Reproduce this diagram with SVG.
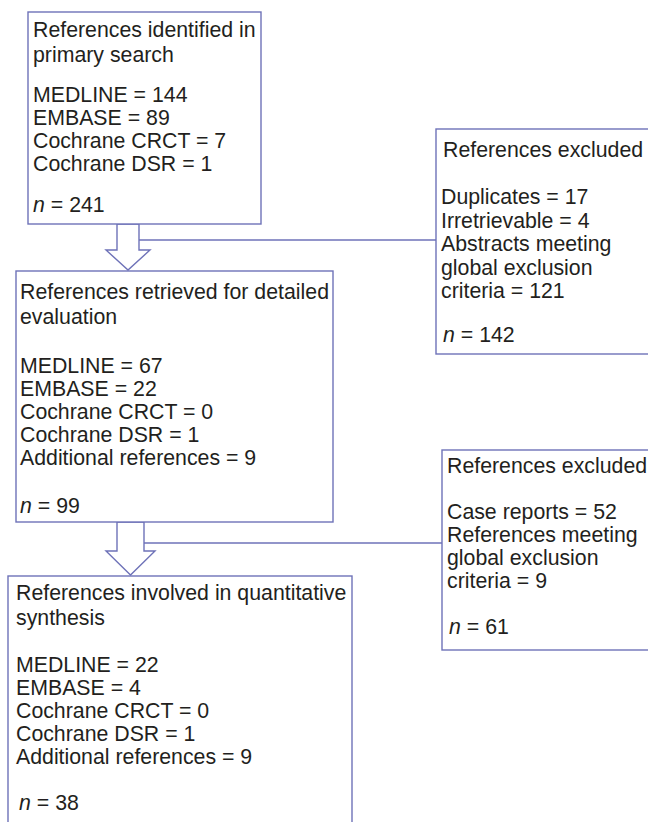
<svg xmlns="http://www.w3.org/2000/svg" width="648" height="822" viewBox="0 0 648 822">
<style>
.box{fill:#fff;stroke:#6e72b8;stroke-width:1.4}
.arr{fill:#fff;stroke:#6e72b8;stroke-width:1.4;stroke-linejoin:miter}
.ln{fill:none;stroke:#6e72b8;stroke-width:1.4}
text{font-family:"Liberation Sans",Arial,Helvetica,sans-serif;font-size:21.3px;fill:#231f20}
.i{font-style:italic}
</style>
<rect width="648" height="822" fill="#fff"/>
<g id="connectors">
<line class="ln" x1="139" y1="240" x2="436" y2="240"/>
<line class="ln" x1="144" y1="543" x2="442" y2="543"/>
<polygon class="arr" points="117,224 139,224 139,250 150,250 128,270 106,250 117,250"/>
<polygon class="arr" points="117,522 144,522 144,551 155,551 130.5,575 106,551 117,551"/>
</g>
<g id="primary">
<rect class="box" x="28" y="12" width="233" height="212"/>
<text x="33" y="37">References identified in</text>
<text x="33" y="62">primary search</text>
<text x="33" y="101.5">MEDLINE = 144</text>
<text x="33" y="124.5">EMBASE = 89</text>
<text x="33" y="147.5">Cochrane CRCT = 7</text>
<text x="33" y="170.5">Cochrane DSR = 1</text>
<text x="33" y="212"><tspan class="i">n</tspan> = 241</text>
</g>
<g id="excluded1">
<rect class="box" x="436" y="129" width="230" height="225"/>
<text x="443" y="157">References excluded</text>
<text x="441" y="204">Duplicates = 17</text>
<text x="441" y="227.5">Irretrievable = 4</text>
<text x="441" y="251">Abstracts meeting</text>
<text x="441" y="274.5">global exclusion</text>
<text x="441" y="298">criteria = 121</text>
<text x="443" y="342"><tspan class="i">n</tspan> = 142</text>
</g>
<g id="retrieved">
<rect class="box" x="16" y="271" width="317" height="251"/>
<text x="20" y="299">References retrieved for detailed</text>
<text x="20" y="324">evaluation</text>
<text x="20" y="373">MEDLINE = 67</text>
<text x="20" y="396">EMBASE = 22</text>
<text x="20" y="419">Cochrane CRCT = 0</text>
<text x="20" y="442">Cochrane DSR = 1</text>
<text x="20" y="465">Additional references = 9</text>
<text x="20" y="513"><tspan class="i">n</tspan> = 99</text>
</g>
<g id="excluded2">
<rect class="box" x="442" y="450" width="230" height="200"/>
<text x="447" y="473">References excluded</text>
<text x="447" y="519">Case reports = 52</text>
<text x="447" y="542">References meeting</text>
<text x="447" y="565">global exclusion</text>
<text x="447" y="588">criteria = 9</text>
<text x="449" y="634"><tspan class="i">n</tspan> = 61</text>
</g>
<g id="synthesis">
<rect class="box" x="8" y="576" width="344" height="260"/>
<text x="16" y="600">References involved in quantitative</text>
<text x="16" y="625">synthesis</text>
<text x="16" y="672">MEDLINE = 22</text>
<text x="16" y="695">EMBASE = 4</text>
<text x="16" y="718">Cochrane CRCT = 0</text>
<text x="16" y="741">Cochrane DSR = 1</text>
<text x="16" y="764">Additional references = 9</text>
<text x="19" y="810"><tspan class="i">n</tspan> = 38</text>
</g>
</svg>
